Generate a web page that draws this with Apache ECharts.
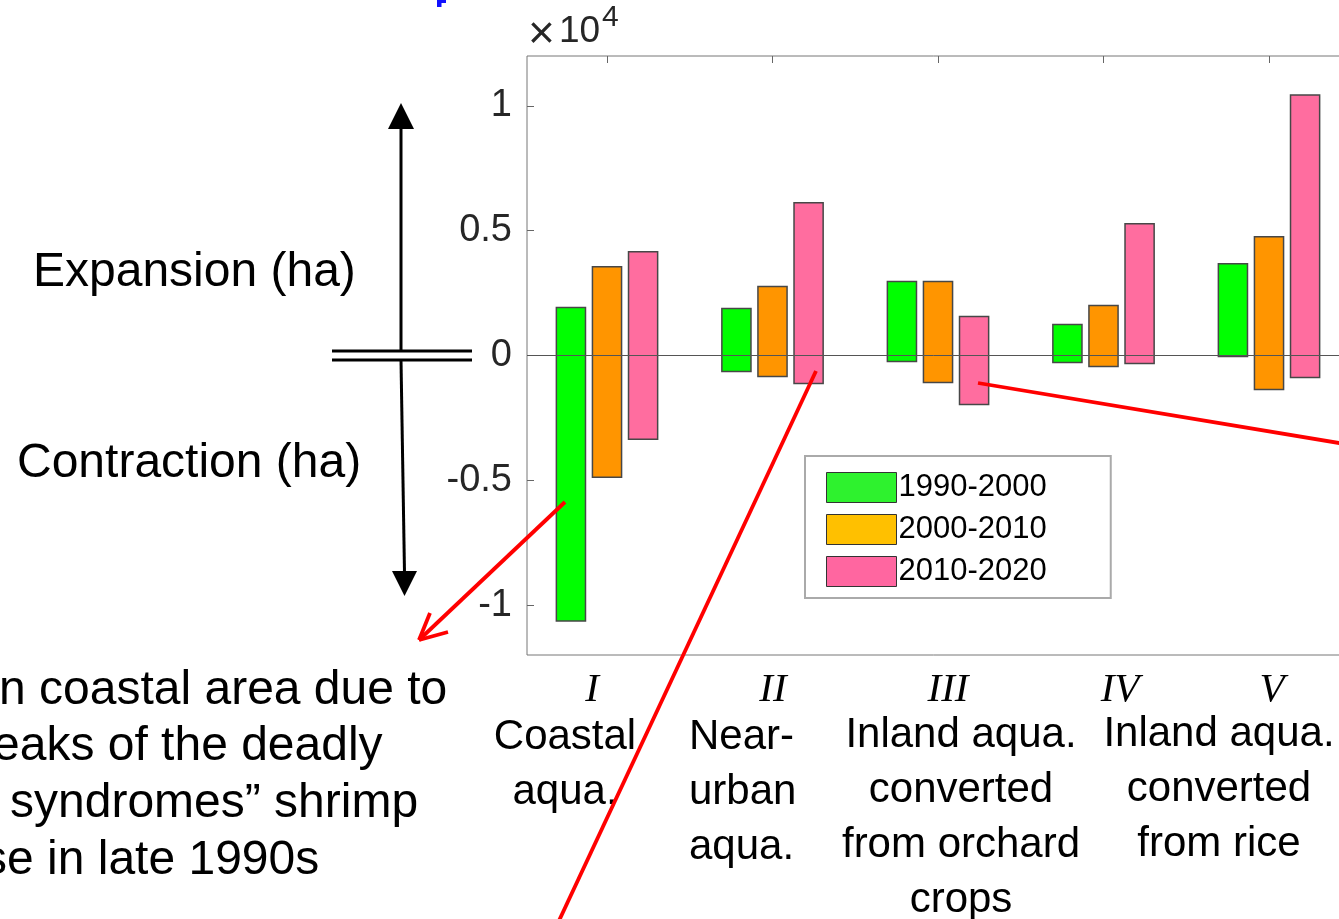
<!DOCTYPE html>
<html>
<head>
<meta charset="utf-8">
<script src="https://cdn.jsdelivr.net/npm/echarts@6/dist/echarts.min.js"></script>
<style>
  html, body { margin: 0; padding: 0; background: #ffffff; }
  #chart { width: 1339px; height: 919px; }
</style>
</head>
<body>
<div id="chart"></div>
<script>
// Aquaculture classes (positions on the x axis) and their labels
const categories = [1, 2, 3, 4, 5];
const romanLabels = ['I', 'II', 'III', 'IV', 'V'];
const classNames = [
  'Coastal\naqua.',
  'Near-\nurban\naqua.',
  'Inland aqua.\nconverted\nfrom orchard\ncrops',
  'Inland aqua.\nconverted\nfrom rice'
];
const periods = ['1990-2000', '2000-2010', '2010-2020'];

// Area change per class (ha): contraction (negative) and expansion (positive)
const contraction1990 = [-10640, -640, -240, -280, -40];
const expansion1990   = [1920, 1880, 2960, 1240, 3680];
const contraction2000 = [-4880, -840, -1080, -440, -1360];
const expansion2000   = [3560, 2760, 2960, 2000, 4760];
const contraction2010 = [-3360, -1120, -1960, -320, -880];
const expansion2010   = [4160, 6120, 1560, 5280, 10440];

// Y axis ticks (ha) and their labels (in units of 10^4)
const yTicks = [-10000, -5000, 0, 5000, 10000];
const yTickLabels = ['-1', '-0.5', '0', '0.5', '1'];

const FONT = '"Liberation Sans", Arial, Helvetica, sans-serif';
const SERIF = '"Liberation Serif", "Times New Roman", serif';
const barColors = ['#00ff00', '#ff9500', '#ff6d9f'];
const legendColors = ['#2ef22e', '#ffc000', '#ff66a0'];
const barOffsets = [-0.218, 0, 0.218];
const BAR_W = 0.176;
const PX_PER_UNIT = 165.5;
const GRID_LEFT = 527, GRID_W = 814;
const X_MIN = 0.5166, X_MAX = X_MIN + GRID_W / PX_PER_UNIT;

const chart = echarts.init(document.getElementById('chart'), null, { renderer: 'canvas' });

const lows = [contraction1990, contraction2000, contraction2010];
const highs = [expansion1990, expansion2000, expansion2010];

function rangeRenderer(offset, color) {
  return function (params, api) {
    const x = api.value(0);
    const lo = api.value(1);
    const hi = api.value(2);
    const a = api.coord([x + offset - BAR_W / 2, hi]);
    const b = api.coord([x + offset + BAR_W / 2, lo]);
    return {
      type: 'rect',
      shape: { x: a[0], y: a[1], width: b[0] - a[0], height: b[1] - a[1] },
      style: { fill: color, stroke: '#474747', lineWidth: 1.5 }
    };
  };
}

const series = periods.map((name, k) => {
  const s = {
    name: name,
    type: 'custom',
    renderItem: rangeRenderer(barOffsets[k], barColors[k]),
    itemStyle: { color: legendColors[k] },
    encode: { x: 0, y: [1, 2] },
    data: categories.map((c, i) => [c, lows[k][i], highs[k][i]]),
    animation: false
  };
  if (k === periods.length - 1) {
    s.markLine = {
      silent: true,
      symbol: 'none',
      label: { show: false },
      lineStyle: { color: '#555555', width: 1, type: 'solid' },
      data: [{ yAxis: 0 }],
      animation: false
    };
  }
  return s;
});

function xAxisAt(pos) {
  return {
    type: 'value', position: pos, min: X_MIN, max: X_MAX,
    axisLine: { show: false },
    splitLine: { show: false },
    axisTick: { show: true, inside: true, length: 7, customValues: categories,
                lineStyle: { color: '#666666', width: 1 } },
    axisLabel: { show: false, customValues: categories }
  };
}

// Annotation texts and shapes drawn around the plot
const graphics = [];
const redLine = { stroke: '#ff0000', lineWidth: 3.8 };

// multiplier for the y axis
graphics.push({ type: 'text', left: 528, top: 12, z: 50,
  style: { text: '×', fontFamily: FONT, fontSize: 46, fill: '#262626' } });
graphics.push({ type: 'text', left: 559, top: 13, z: 50,
  style: { text: '10', fontFamily: FONT, fontSize: 37, fill: '#262626' } });
graphics.push({ type: 'text', left: 602, top: 3, z: 50,
  style: { text: '4', fontFamily: FONT, fontSize: 30, fill: '#262626' } });

// small blue fragment at the top edge
graphics.push({ type: 'rect', z: 50, shape: { x: 437, y: 0, width: 9, height: 3 }, style: { fill: '#1010ff' } });
graphics.push({ type: 'rect', z: 50, shape: { x: 437, y: 0, width: 4.5, height: 7 }, style: { fill: '#1010ff' } });

// Expansion / contraction arrows with the axis break mark
graphics.push({ type: 'line', z: 50, shape: { x1: 401, y1: 128, x2: 401, y2: 351 }, style: { stroke: '#000', lineWidth: 3 } });
graphics.push({ type: 'polygon', z: 50, shape: { points: [[388, 129], [414, 129], [401, 103]] }, style: { fill: '#000' } });
graphics.push({ type: 'line', z: 50, shape: { x1: 401, y1: 360, x2: 404.5, y2: 573 }, style: { stroke: '#000', lineWidth: 3 } });
graphics.push({ type: 'polygon', z: 50, shape: { points: [[392, 571], [417, 571], [404.5, 596]] }, style: { fill: '#000' } });
graphics.push({ type: 'line', z: 51, shape: { x1: 332, y1: 351, x2: 472, y2: 351 }, style: { stroke: '#000', lineWidth: 3 } });
graphics.push({ type: 'line', z: 51, shape: { x1: 332, y1: 360, x2: 472, y2: 360 }, style: { stroke: '#000', lineWidth: 3 } });

graphics.push({ type: 'text', x: 33, y: 273, z: 50,
  style: { text: 'Expansion (ha)', fontFamily: FONT, fontSize: 48, fill: '#000', textVerticalAlign: 'middle' } });
graphics.push({ type: 'text', x: 17, y: 464, z: 50,
  style: { text: 'Contraction (ha)', fontFamily: FONT, fontSize: 48, fill: '#000', textVerticalAlign: 'middle' } });

// note at the lower left
const noteLines = [
  { t: 'n coastal area due to', x: -1, y: 691 },
  { t: 'eaks of the deadly', x: -7, y: 747 },
  { t: 'syndromes\u201d shrimp', x: 10, y: 804 },
  { t: 'se in late 1990s', x: -17, y: 861 }
];
noteLines.forEach(l => graphics.push({ type: 'text', x: l.x, y: l.y, z: 50,
  style: { text: l.t, fontFamily: FONT, fontSize: 48, fill: '#000', textVerticalAlign: 'middle' } }));

// class numerals and names under the axis
const romanX = [592, 773, 948, 1120, 1272];
romanLabels.forEach((r, i) => graphics.push({ type: 'text', x: romanX[i], y: 690, z: 50,
  style: { text: r, fontFamily: SERIF, fontStyle: 'italic', fontSize: 41, fill: '#000',
           textAlign: 'center', textVerticalAlign: 'middle' } }));

const nameLayout = [
  { x: 565, y: 710, align: 'center' },
  { x: 689, y: 710, align: 'left' },
  { x: 961, y: 708, align: 'center' },
  { x: 1219, y: 707, align: 'center' }
];
classNames.forEach((n, i) => graphics.push({ type: 'text', x: nameLayout[i].x, y: nameLayout[i].y, z: 50,
  style: { text: n, fontFamily: FONT, fontSize: 42, lineHeight: 55, fill: '#000',
           textAlign: nameLayout[i].align, textVerticalAlign: 'top' } }));

// red pointers
graphics.push({ type: 'line', z: 60, shape: { x1: 565, y1: 502, x2: 419, y2: 640 }, style: redLine });
graphics.push({ type: 'line', z: 60, shape: { x1: 419, y1: 640, x2: 430, y2: 613 }, style: redLine });
graphics.push({ type: 'line', z: 60, shape: { x1: 419, y1: 640, x2: 448, y2: 632 }, style: redLine });
graphics.push({ type: 'line', z: 60, shape: { x1: 816, y1: 371, x2: 557, y2: 925 }, style: redLine });
graphics.push({ type: 'line', z: 60, shape: { x1: 978, y1: 383, x2: 1345, y2: 444 }, style: redLine });

const option = {
  animation: false,
  backgroundColor: '#ffffff',
  grid: {
    left: GRID_LEFT, top: 56, width: GRID_W, height: 599,
    outerBoundsMode: 'none',
    show: true, borderColor: '#777777', borderWidth: 1, backgroundColor: 'transparent'
  },
  xAxis: [xAxisAt('bottom'), xAxisAt('top')],
  yAxis: {
    type: 'value', min: -12000, max: 12000,
    axisLine: { show: false },
    splitLine: { show: false },
    axisTick: { show: true, inside: true, length: 7, customValues: yTicks,
                lineStyle: { color: '#666666', width: 1 } },
    axisLabel: {
      customValues: yTicks, margin: 15,
      fontFamily: FONT, fontSize: 38, color: '#262626',
      formatter: v => yTickLabels[yTicks.indexOf(v)]
    }
  },
  legend: {
    orient: 'vertical', left: 805, top: 456,
    padding: [16, 64, 11, 21], itemWidth: 70, itemHeight: 30, itemGap: 11,
    backgroundColor: '#ffffff', borderColor: '#aaaaaa', borderWidth: 2,
    textStyle: { fontFamily: FONT, fontSize: 31, color: '#000', padding: [0, 0, 0, -3] },
    data: periods.map((n, i) => ({
      name: n, icon: 'rect',
      itemStyle: { color: legendColors[i], borderColor: '#333333', borderWidth: 1 }
    }))
  },
  graphic: graphics,
  series: series
};

chart.setOption(option);
</script>
</body>
</html>
